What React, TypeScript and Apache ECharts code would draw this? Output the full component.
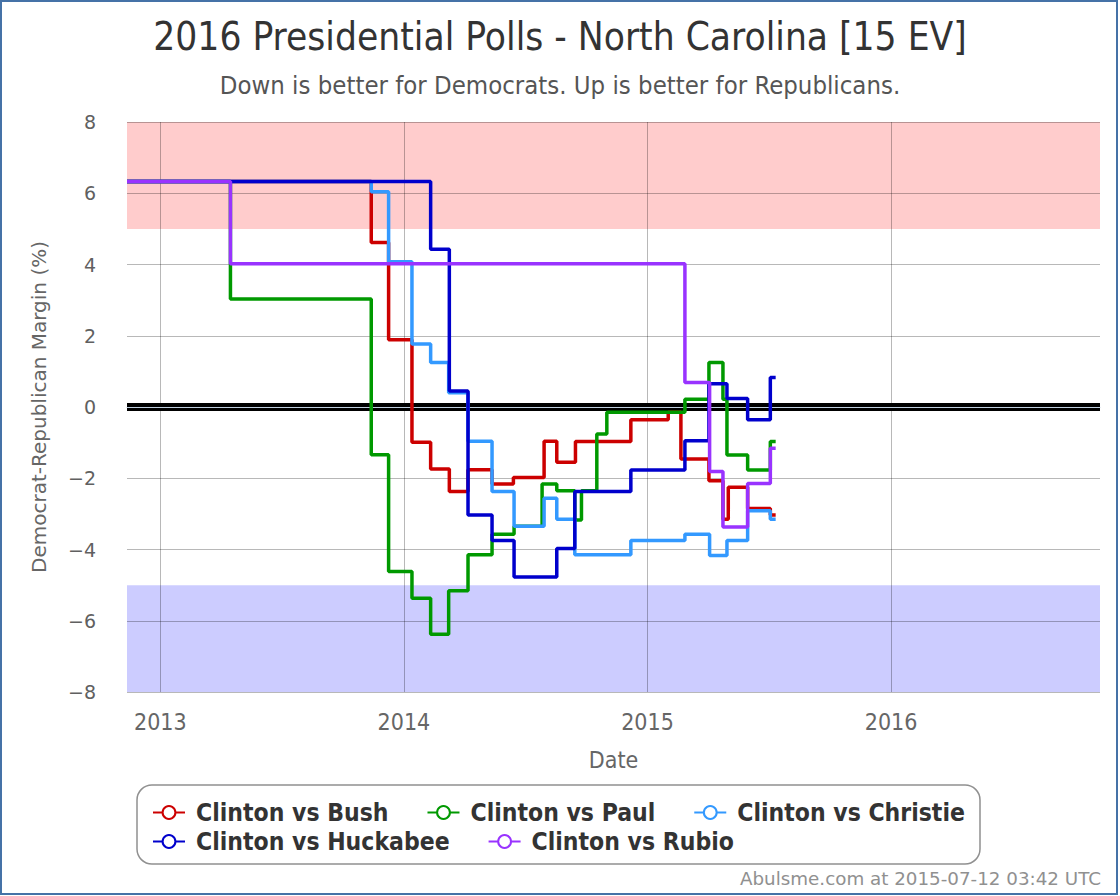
import React, { useEffect, useRef } from "react";
import * as echarts from "echarts";

const seriesNames = ["Clinton vs Bush", "Clinton vs Paul", "Clinton vs Christie", "Clinton vs Huckabee", "Clinton vs Rubio"];
const seriesColors = ["#CC0000", "#009900", "#3399FF", "#0000CC", "#9933FF"];

const bushDates = ["2012-11-12", "2013-11-13", "2013-12-09", "2014-01-13", "2014-02-10", "2014-03-10", "2014-04-07", "2014-05-13", "2014-06-14", "2014-07-30", "2014-08-18", "2014-09-15", "2014-12-07", "2015-02-01", "2015-02-20", "2015-04-03", "2015-04-24", "2015-05-02", "2015-05-31", "2015-07-04", "2015-07-12"];
const bushValues = [6.33, 4.62, 1.89, -0.99, -1.74, -2.37, -1.76, -2.16, -1.98, -0.96, -1.55, -0.97, -0.36, -0.15, -1.46, -2.07, -3.15, -2.25, -2.85, -3.03, -3.03];

const paulDates = ["2012-11-12", "2013-04-16", "2013-11-13", "2013-12-09", "2014-01-13", "2014-02-10", "2014-03-09", "2014-04-07", "2014-05-13", "2014-06-15", "2014-07-27", "2014-08-18", "2014-09-14", "2014-09-24", "2014-10-17", "2014-11-01", "2015-02-26", "2015-04-03", "2015-04-24", "2015-04-30", "2015-05-31", "2015-07-04", "2015-07-12"];
const paulValues = [6.33, 3.03, -1.34, -4.62, -5.37, -6.38, -5.16, -4.15, -3.57, -3.35, -2.16, -2.35, -3.17, -2.35, -0.76, -0.15, 0.22, 1.25, 0.22, -1.35, -1.77, -0.97, -0.97];

const christieDates = ["2012-11-12", "2013-11-13", "2013-12-09", "2014-01-13", "2014-02-10", "2014-03-09", "2014-04-07", "2014-05-13", "2014-06-15", "2014-07-30", "2014-08-18", "2014-09-14", "2014-12-07", "2015-02-26", "2015-04-04", "2015-04-30", "2015-05-31", "2015-07-04", "2015-07-12"];
const christieValues = [6.33, 6.04, 4.08, 1.77, 1.25, 0.4, -0.96, -2.37, -3.35, -2.56, -3.15, -4.15, -3.75, -3.57, -4.17, -3.75, -2.91, -3.15, -3.15];

const huckabeeDates = ["2012-11-12", "2014-02-10", "2014-03-10", "2014-04-07", "2014-05-13", "2014-06-15", "2014-08-18", "2014-09-14", "2014-12-07", "2015-02-26", "2015-04-03", "2015-04-30", "2015-05-31", "2015-07-04", "2015-07-12"];
const huckabeeValues = [6.33, 4.43, 0.45, -3.03, -3.75, -4.77, -3.97, -2.37, -1.77, -0.95, 0.65, 0.24, -0.36, 0.83, 0.83];

const rubioDates = ["2012-11-12", "2013-04-16", "2015-02-26", "2015-04-04", "2015-04-24", "2015-05-31", "2015-07-04", "2015-07-12"];
const rubioValues = [6.33, 4.02, 0.69, -1.81, -3.37, -2.15, -1.16, -1.16];

const yearTicks = ["2013-01-01", "2014-01-01", "2015-01-01", "2016-01-01"];
const axisMinDate = "2012-11-12";
const axisMaxDate = "2016-11-09";

const titleText = "2016 Presidential Polls - North Carolina [15 EV]";
const subtitleText = "Down is better for Democrats. Up is better for Republicans.";
const creditText = "Abulsme.com at 2015-07-12 03:42 UTC";

const ts = (d: string) => Date.parse(d + "T00:00:00Z");
const toPairs = (dates: string[], values: number[]) => dates.map((d, i) => [ts(d), values[i]]);

const allDates = [bushDates, paulDates, christieDates, huckabeeDates, rubioDates];
const allValues = [bushValues, paulValues, christieValues, huckabeeValues, rubioValues];

const condensed = '"DejaVu Sans Condensed", "Liberation Sans Narrow", "DejaVu Sans", sans-serif';
const dejavu = '"DejaVu Sans", sans-serif';

export default function App() {
  const ref = useRef<HTMLDivElement>(null);
  useEffect(() => {
    if (!ref.current) return;
    const chart = echarts.init(ref.current, undefined, { renderer: "svg" });
    const dataSeries = seriesNames.map((name, i) => ({
      name,
      type: "line",
      step: "end",
      data: toPairs(allDates[i], allValues[i]),
      symbol: "emptyCircle",
      symbolSize: 12,
      showSymbol: false,
      z: 2 + i * 0.01,
      lineStyle: { color: seriesColors[i], width: 3.5 },
      itemStyle: { color: seriesColors[i], borderWidth: 3 },
    }));
    const legendText = { fontSize: 24.5, fontWeight: "bold", color: "#333333", fontFamily: condensed, padding: [0, 0, 0, 6] };
    const option: any = {
      animation: false,
      backgroundColor: "#ffffff",
      title: [
        {
          text: titleText,
          left: "center",
          top: 12,
          textStyle: { fontSize: 38.5, fontWeight: "normal", color: "#333333", fontFamily: condensed },
        },
        {
          text: subtitleText,
          left: "center",
          top: 67,
          textStyle: { fontSize: 25.5, fontWeight: "normal", color: "#555555", fontFamily: condensed },
        },
      ],
      grid: { left: 127, right: 20, top: 122, height: 570, containLabel: false },
      xAxis: {
        type: "value",
        min: ts(axisMinDate),
        max: ts(axisMaxDate),
        z: 1.5,
        name: "Date",
        nameLocation: "middle",
        nameGap: 56,
        nameTextStyle: { fontSize: 23, color: "#666666", fontFamily: condensed },
        axisLine: { show: true, lineStyle: { color: "#C0D0E0", width: 1 } },
        axisTick: { show: false, customValues: yearTicks.map(ts) },
        axisLabel: {
          customValues: yearTicks.map(ts),
          formatter: (v: number) => String(new Date(v).getUTCFullYear()),
          fontSize: 23,
          color: "#666666",
          margin: 18,
          fontFamily: condensed,
        },
        splitLine: { show: true, lineStyle: { color: "rgba(0,0,0,0.28)", width: 1 } },
      },
      yAxis: {
        type: "value",
        min: -8,
        max: 8,
        interval: 2,
        z: 1.5,
        name: "Democrat-Republican Margin (%)",
        nameLocation: "middle",
        nameGap: 78,
        nameRotate: 90,
        nameTextStyle: { fontSize: 20, color: "#666666", fontFamily: dejavu },
        axisLine: { show: false },
        axisTick: { show: false },
        axisLabel: {
          formatter: (v: number) => (v < 0 ? "\u2212" + Math.abs(v) : String(v)),
          fontSize: 19,
          color: "#606060",
          margin: 31,
          fontFamily: dejavu,
        },
        splitLine: { show: true, lineStyle: { color: "rgba(0,0,0,0.28)", width: 1 } },
      },
      legend: [
        {
          data: seriesNames.slice(0, 3),
          left: 147,
          top: 795,
          itemGap: 38,
          itemWidth: 32,
          itemHeight: 16,
          textStyle: legendText,
        },
        {
          data: seriesNames.slice(3),
          left: 147,
          top: 824,
          itemGap: 38,
          itemWidth: 32,
          itemHeight: 16,
          textStyle: legendText,
        },
      ],
      graphic: [
        {
          type: "rect",
          shape: { x: 1, y: 1, width: 1116, height: 893 },
          style: { fill: "none", stroke: "#4572A7", lineWidth: 2 },
          silent: true,
          z: 100,
        },
        {
          type: "rect",
          shape: { x: 137, y: 785, width: 843, height: 79, r: 15 },
          style: { fill: "none", stroke: "#909090", lineWidth: 1.5 },
          silent: true,
        },
        {
          type: "text",
          right: 19,
          top: 869,
          style: { text: creditText, fontSize: 18.3, fill: "#909090", fontFamily: dejavu },
          silent: true,
        },
      ],
      series: [
        {
          name: "bands",
          type: "line",
          data: [],
          silent: true,
          z: 1,
          markArea: {
            silent: true,
            z: 1,
            data: [
              [{ yAxis: 5, itemStyle: { color: "#FFCCCC" } }, { yAxis: 8 }],
              [{ yAxis: -8, itemStyle: { color: "#CCCCFF" } }, { yAxis: -5 }],
            ],
          },
          markLine: {
            silent: true,
            z: 1.2,
            symbol: ["none", "none"],
            label: { show: false },
            lineStyle: { color: "#000000", width: 8, type: "solid" },
            data: [{ yAxis: 0 }],
          },
        },
        ...dataSeries,
      ],
    };
    chart.setOption(option);
    return () => chart.dispose();
  }, []);
  return <div ref={ref} style={{ position: "absolute", left: 0, top: 0, width: 1120, height: 896 }} />;
}
